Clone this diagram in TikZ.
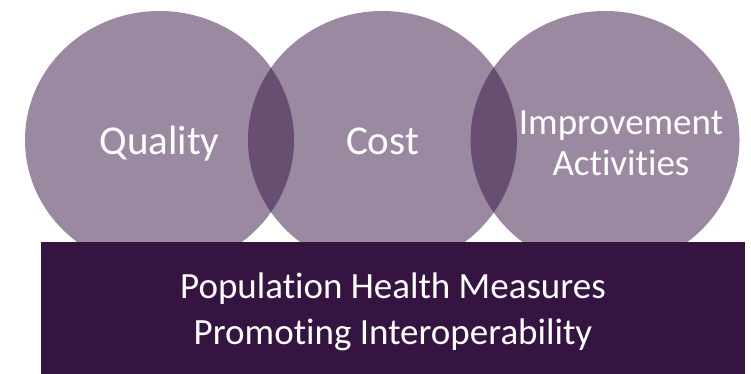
\documentclass[tikz,border=0pt]{standalone}
\usepackage{fontspec}
\setmainfont[Ligatures=NoCommon]{Carlito}
\usetikzlibrary{shapes.geometric,positioning}
\definecolor{mipsplum}{HTML}{361442}

\begin{document}
\begin{tikzpicture}[line cap=round,line join=round,x=1pt,y=1pt,
		area/.style={ellipse,minimum width=269pt,minimum height=258pt,inner sep=0pt,fill=mipsplum,fill opacity=0.5},
		lbl/.style={text=white,align=center,inner sep=0pt}]
	\useasboundingbox (0.,0.) rectangle (751.,374.);
	% the three categories
	\node [area] (qual) at (159.5,234.) {};
	\node [area] (cost) at (382.5,234.) {};
	\node [area] (impr) at (605.,234.) {};
	\node [lbl,anchor=base,font=\fontsize{41}{49}\selectfont] (qualtxt) at ([yshift=-14.3pt]qual.center) {Quality};
	\node [lbl,anchor=base,font=\fontsize{41}{49}\selectfont] (costtxt) at ([yshift=-14.3pt]cost.center) {Cost};
	\node [lbl,font=\fontsize{37}{41}\selectfont] (imprtxt) at ([xshift=16pt,yshift=-3pt]impr.center) {Improvement\\Activities};
	% base bar
	\fill [mipsplum] (41.,0.) rectangle (745.,132.);
	\node [lbl,font=\fontsize{37}{46.5}\selectfont] (base) at (393.,62.) {Population Health Measures\\Promoting Interoperability};
\end{tikzpicture}
\end{document}
